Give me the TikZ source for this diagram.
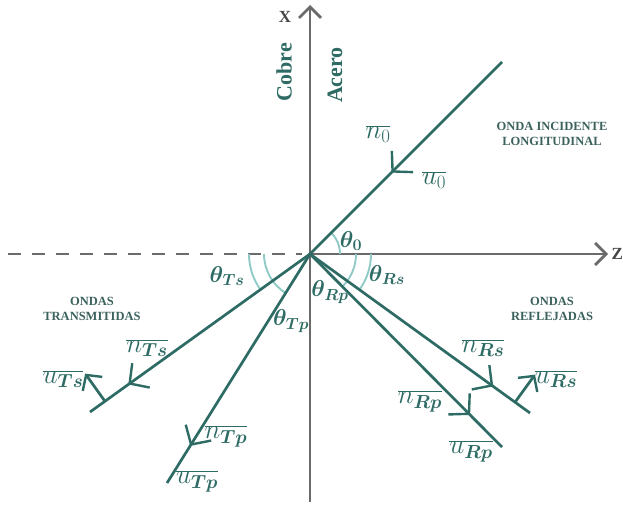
\RequirePackage{fix-cm}
\documentclass[tikz,border=0pt]{standalone}
\usepackage{fontspec}
\setmainfont{Liberation Serif}
\usepackage{bm}
\usetikzlibrary{arrows.meta,decorations.markings,calc}
\definecolor{tealdark}{HTML}{2D6B64}
\definecolor{teallight}{HTML}{8FCAC7}
\definecolor{axisgray}{HTML}{6A6A6A}
\definecolor{capcol}{HTML}{3C625E}
\definecolor{axlblcol}{HTML}{454545}
\tikzset{
  axisline/.style={draw=axisgray, line width=2.8pt},
  wave/.style={draw=tealdark, line width=2.7pt},
  anglearc/.style={draw=teallight, line width=1.9pt},
  barb/.tip={Straight Barb[length=11pt,width=22pt]},
  chevron/.style={postaction={decorate}, decoration={markings,
     mark=at position #1 with {\arrow{Straight Barb[length=14pt,width=30pt,line width=2.4pt]}}}},
  veclbl/.style={text=tealdark, font=\fontsize{27}{29}\selectfont, inner sep=0pt},
  anglbl/.style={text=tealdark, font=\fontsize{23}{25}\selectfont, inner sep=0pt},
  caption/.style={text=capcol, font=\bfseries\fontsize{12.5}{15.5}\selectfont, align=center, inner sep=0pt},
  axlbl/.style={text=axlblcol, font=\bfseries\fontsize{17}{19}\selectfont, inner sep=0pt},
  sidelbl/.style={text=tealdark, font=\bfseries\fontsize{22}{24}\selectfont, rotate=90, inner sep=0pt},
}
\begin{document}
\begin{tikzpicture}[x=1pt,y=-1pt]
\useasboundingbox (0,0) rectangle (623,506);
% key points
\coordinate (O) at (310,254);
\coordinate (Xtop) at (310,5);
\coordinate (Xbot) at (310,502);
\coordinate (Zend) at (608,254);
\coordinate (Zneg) at (8,254);
\coordinate (Zdash) at (302,254);
\coordinate (I) at (502,62);
\coordinate (Rs) at (530,413);
\coordinate (Rp) at (502,447);
\coordinate (Ts) at (90,412);
\coordinate (Tp) at (167,483);
% axes
\draw[axisline, -{barb}] (Xbot) -- (Xtop);
\draw[axisline, -{barb}] (O) -- (Zend);
\draw[axisline, dash pattern=on 13pt off 11pt] (Zneg) -- (Zdash);
% angle arcs
\draw[anglearc] ($(O)+(0:30)$) arc[start angle=0, end angle=-45, radius=30];
\draw[anglearc] ($(O)+(0:46)$) arc[start angle=0, end angle=45, radius=46];
\draw[anglearc] ($(O)+(0:61)$) arc[start angle=0, end angle=35.9, radius=61];
\draw[anglearc] ($(O)+(180:46)$) arc[start angle=180, end angle=122, radius=46];
\draw[anglearc] ($(O)+(180:61)$) arc[start angle=180, end angle=144.4, radius=61];
% waves
\draw[wave, chevron=0.576] (I) -- (O);
\draw[wave, chevron=0.833] (O) -- (Rs);
\draw[wave, chevron=0.834] (O) -- (Rp);
\draw[wave, chevron=0.826] (O) -- (Ts);
\draw[wave, chevron=0.838] (O) -- (Tp);
% perpendicular displacement vectors
\coordinate (bTs) at ($(O)!0.932!(Ts)$);
\coordinate (tTs) at ($(bTs)+(234.4:34)$);
\coordinate (bRs) at ($(O)!0.932!(Rs)$);
\coordinate (tRs) at ($(bRs)+(-54.1:34)$);
\draw[wave, -{Straight Barb[length=11pt,width=24pt,line width=2.4pt]}] (bTs) -- (tTs);
\draw[wave, -{Straight Barb[length=11pt,width=24pt,line width=2.4pt]}] (bRs) -- (tRs);
% axis labels
\node[axlbl] (xl) at (285,17) {X};
\node[axlbl, anchor=west] (zl) at (611.5,254) {Z};
\node[sidelbl] (cobre) at (284,72) {Cobre};
\node[sidelbl] (acero) at (335,75) {Acero};
% captions
\node[caption] (inc) at (552,134) {ONDA INCIDENTE\\LONGITUDINAL};
\node[caption] (tra) at (92,309) {ONDAS\\TRANSMITIDAS};
\node[caption] (ref) at (552,309) {ONDAS\\REFLEJADAS};
% angle labels
\node[anglbl] (a0) at (351,241) {$\bm{\theta_0}$};
\node[anglbl] (aRs) at (387,275) {$\bm{\theta_{Rs}}$};
\node[anglbl] (aRp) at (330,292) {$\bm{\theta_{Rp}}$};
\node[anglbl] (aTs) at (227,276) {$\bm{\theta_{Ts}}$};
\node[anglbl] (aTp) at (291,321) {$\bm{\theta_{Tp}}$};
% vector labels
\node[veclbl] (n0) at (378,134) {$\overline{n_0}$};
\node[veclbl] (u0) at (434,180) {$\overline{u_0}$};
\node[veclbl] (nTs) at (147,348) {$\overline{n_{\bm{Ts}}}$};
\node[veclbl] (uTs) at (63,379) {$\overline{u_{\bm{Ts}}}$};
\node[veclbl] (nTp) at (226,436) {$\overline{n_{\bm{Tp}}}$};
\node[veclbl] (uTp) at (197,481) {$\overline{u_{\bm{Tp}}}$};
\node[veclbl] (nRs) at (483,348) {$\overline{n_{\bm{Rs}}}$};
\node[veclbl] (uRs) at (556,379) {$\overline{u_{\bm{Rs}}}$};
\node[veclbl] (nRp) at (420,401) {$\overline{n_{\bm{Rp}}}$};
\node[veclbl] (uRp) at (471,451) {$\overline{u_{\bm{Rp}}}$};
\end{tikzpicture}
\end{document}
